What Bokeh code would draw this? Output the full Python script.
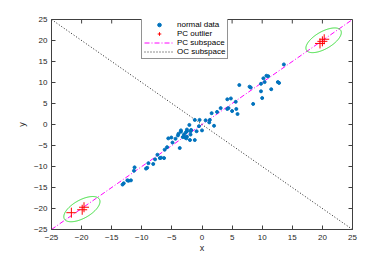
import numpy as np
from bokeh.plotting import figure
from bokeh.models import FixedTicker, Legend, LegendItem, Range1d
from bokeh.embed import file_html
from bokeh.resources import INLINE

# ---- data ----
normal_x = [13.6, 10.7, 11.0, 10.2, 10.4, 9.8, 12.6, 12.8, 11.5, 9.8, 10.0, 8.5, 7.9, 8.1,
            6.2, 4.8, 4.2, 5.6, 4.2, 4.4, 5.0, 5.7, 5.9, 3.1, 2.5, 1.6, 1.3, 1.2, 0.6, 2.0,
            -0.4, -1.2, -2.1, -0.5, 0.0, -0.9, -1.8, -1.9, -2.5, -2.7, -3.5, -3.9, -4.0,
            -3.0, -3.2, -2.8, -2.6, -2.5, -1.9, -1.2, -2.0, -4.4, -4.9, -5.6, -5.1, -3.7,
            -5.8, -6.2, -7.4, -7.0, -6.8, -7.8, -6.3, -8.9, -8.1, -9.3, -9.1, -11.2, -11.3,
            -12.4, -12.2, -11.8, -13.0, -13.2, -3.5, -2.5]
normal_y = [14.3, 11.6, 11.5, 11.0, 10.1, 9.7, 10.1, 9.9, 8.4, 7.9, 6.3, 4.9, 9.0, 8.8,
            9.4, 6.2, 6.0, 5.4, 3.7, 3.9, 3.2, 3.7, 2.5, 3.9, 3.0, 2.7, 1.1, 0.5, 1.0, -0.3,
            1.1, 1.1, -0.1, -0.4, -1.4, -1.6, -1.3, -1.6, -1.6, -1.9, -1.7, -2.2, -2.6,
            -2.4, -3.0, -3.1, -3.3, -2.9, -2.4, -3.7, -3.7, -3.4, -4.3, -3.3, -3.1, -5.6,
            -5.4, -6.0, -7.2, -8.0, -7.9, -8.3, -8.0, -9.2, -9.4, -10.5, -10.3, -10.2, -11.0,
            -13.3, -13.4, -13.3, -14.0, -14.3, -1.4, -1.2]

outlier_x = [-21.7, -19.9, -19.6, 19.6, 20.0, 20.3]
outlier_y = [-21.0, -20.3, -19.7, 19.3, 19.8, 20.3]

pc_x = [-25, 25]
pc_y = [-25, 25]
oc_x = [-25, 25]
oc_y = [25, -25]

# ellipses: center x, center y, semi-major, semi-minor, angle (deg)
ell_cx = [-19.95, 20.2]
ell_cy = [-20.15, 20.05]
ell_a = [3.8, 3.75]
ell_b = [1.9, 1.8]
ell_ang = [45, 45]

ticks = [-25, -20, -15, -10, -5, 0, 5, 10, 15, 20, 25]

FONT = "Liberation Sans"
AX = "#404040"

p = figure(width=382, height=258, x_range=Range1d(-25, 25), y_range=Range1d(-25, 25),
           output_backend="svg", toolbar_location=None,
           min_border_left=51, min_border_right=30, min_border_top=19, min_border_bottom=29,
           x_axis_label="x", y_axis_label="y")
p.grid.visible = False
p.outline_line_color = AX
p.outline_line_width = 1
p.background_fill_color = "white"
p.border_fill_color = "white"

for ax in p.xaxis + p.yaxis:
    ax.ticker = FixedTicker(ticks=ticks)
    ax.minor_tick_line_color = None
    ax.major_tick_in = 4
    ax.major_tick_out = 0
    ax.axis_line_color = AX
    ax.major_tick_line_color = AX
    ax.major_label_text_font = FONT
    ax.major_label_text_font_size = "8px"
    ax.major_label_text_color = "#262626"
    ax.axis_label_text_font = FONT
    ax.axis_label_text_font_size = "9px"
    ax.axis_label_text_font_style = "normal"
    ax.axis_label_text_color = "#262626"
p.xaxis.major_label_standoff = 5
p.xaxis.axis_label_standoff = 0
p.yaxis.major_label_standoff = 4
p.yaxis.axis_label_standoff = 4

# inward ticks on the top and right edges of the box
n = len(ticks)
p.ray(x=ticks, y=[25] * n, length=4, length_units="screen", angle=-np.pi / 2,
      line_color=AX, line_width=1)
p.ray(x=[25] * n, y=ticks, length=4, length_units="screen", angle=np.pi,
      line_color=AX, line_width=1)

r_pc = p.line(pc_x, pc_y, line_color="#FF00FF", line_width=1, line_dash="5 2 1 2")
r_oc = p.line(oc_x, oc_y, line_color="#222222", line_width=1, line_dash="1 2")

for cx, cy, a, b, ang in zip(ell_cx, ell_cy, ell_a, ell_b, ell_ang):
    t = np.linspace(0, 2 * np.pi, 200)
    th = np.deg2rad(ang)
    ex = cx + a * np.cos(t) * np.cos(th) - b * np.sin(t) * np.sin(th)
    ey = cy + a * np.cos(t) * np.sin(th) + b * np.sin(t) * np.cos(th)
    p.line(ex, ey, line_color="#33DD33", line_width=1)

r_norm = p.scatter(normal_x, normal_y, marker="circle", size=3, color="#0072BD")
r_out = p.scatter(outlier_x, outlier_y, marker="cross", size=10, line_color="#FF0000", line_width=1)

legend = Legend(items=[LegendItem(label="normal data", renderers=[r_norm]),
                       LegendItem(label="PC outlier", renderers=[r_out]),
                       LegendItem(label="PC subspace", renderers=[r_pc]),
                       LegendItem(label="OC subspace", renderers=[r_oc])],
                location=(90, 170))
legend.label_text_font = FONT
legend.label_text_font_size = "8px"
legend.label_text_color = "#000000"
legend.glyph_width = 30
legend.glyph_height = 9
legend.label_height = 9
legend.label_standoff = 3
legend.padding = 2
legend.spacing = 0
legend.margin = 0
legend.border_line_color = "#262626"
legend.border_line_width = 0.7
legend.background_fill_color = "white"
legend.background_fill_alpha = 1
p.add_layout(legend, "center")

open("out.html", "w").write(file_html(p, INLINE))
